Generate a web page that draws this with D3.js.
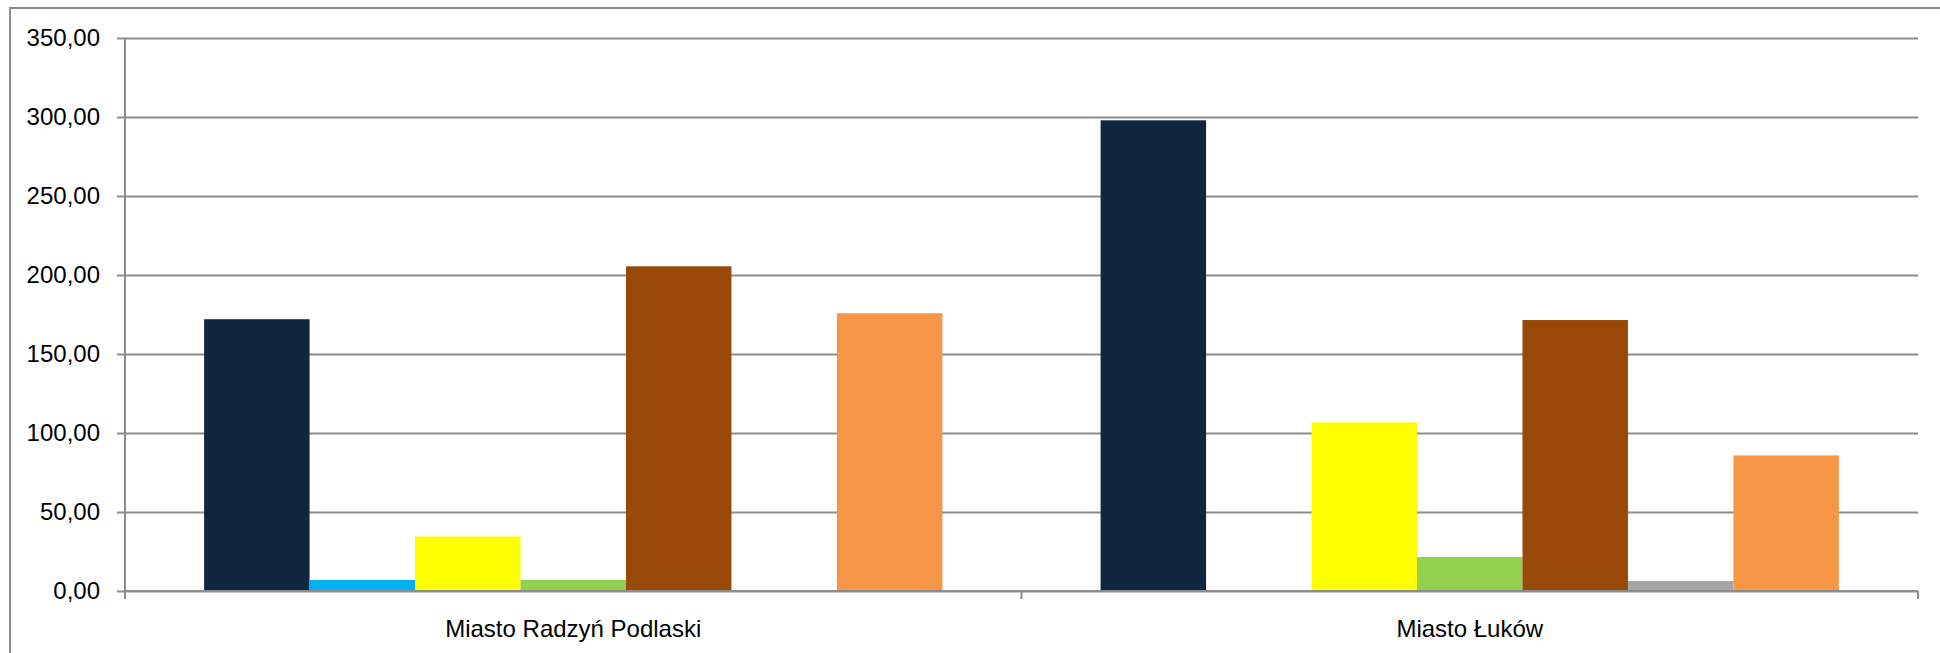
<!DOCTYPE html>
<html>
<head>
<meta charset="utf-8">
<script src="https://cdn.jsdelivr.net/npm/d3@7"></script>
<style>
  html, body { margin: 0; padding: 0; background: #fff; }
  svg { display: block; }
  text { font-family: "Liberation Sans", Arial, sans-serif; fill: #000; }
</style>
</head>
<body>
<svg id="chart" width="1940" height="653"></svg>
<script>
// ---- data ----
const categories = ["Miasto Radzyń Podlaski", "Miasto Łuków"];
const seriesNames = ["Seria 1", "Seria 2", "Seria 3", "Seria 4", "Seria 5", "Seria 6", "Seria 7"];
const seriesColors = ["#10253F", "#00B0F0", "#FFFF00", "#92D050", "#984807", "#A5A5A5", "#F79646"];
const valuesRadzyn = [172.0, 7.0, 34.5, 7.0, 205.5, 0, 175.8];
const valuesLukow = [297.9, 0, 106.7, 21.5, 171.5, 6.3, 85.8];
const yTicks = [0, 50, 100, 150, 200, 250, 300, 350];

const values = [valuesRadzyn, valuesLukow];

// ---- layout ----
const svg = d3.select("#chart");
const plot = { left: 125, right: 1918, top: 38, bottom: 591 };
const gridColor = "#8C8C8C";

// outer border (top & left visible)
svg.append("path")
  .attr("d", `M10,1000 L10,8 L2000,8`)
  .attr("fill", "none")
  .attr("stroke", "#8C8C8C")
  .attr("stroke-width", 2);

const y = d3.scaleLinear().domain([0, 350]).range([plot.bottom, plot.top]);
const x0 = d3.scaleBand().domain(categories).range([plot.left, plot.right]).padding(0);
const x1 = d3.scaleBand().domain(seriesNames).range([0, x0.bandwidth()])
  .paddingInner(0).paddingOuter(0.75);

const loc = d3.formatLocale({ decimal: ",", thousands: " ", grouping: [3], currency: ["", " zł"] });
const fmt = loc.format(".2f");

// gridlines
const grid = svg.append("g").attr("transform", `translate(${plot.left},0)`)
  .call(d3.axisLeft(y).tickValues(yTicks).tickSize(-(plot.right - plot.left)).tickFormat(""));
grid.select(".domain").remove();
grid.selectAll("line").attr("stroke", gridColor).attr("stroke-width", 2);

// bars
const groups = svg.append("g").selectAll("g")
  .data(categories)
  .join("g")
  .attr("transform", d => `translate(${x0(d)},0)`);

groups.selectAll("rect")
  .data((c, i) => seriesNames.map((s, j) => ({ s, v: values[i][j], color: seriesColors[j] })))
  .join("rect")
  .attr("x", d => x1(d.s))
  .attr("width", x1.bandwidth())
  .attr("y", d => y(d.v))
  .attr("height", d => plot.bottom - y(d.v))
  .attr("fill", d => d.color);

// y axis
const yAxis = svg.append("g").attr("transform", `translate(${plot.left},0)`)
  .call(d3.axisLeft(y).tickValues(yTicks).tickSize(8).tickPadding(17).tickFormat(fmt));
yAxis.select(".domain").attr("stroke", gridColor).attr("stroke-width", 2)
  .attr("d", `M0,${plot.top}V${plot.bottom}`);
yAxis.selectAll("line").attr("stroke", gridColor).attr("stroke-width", 2);
yAxis.selectAll("text").attr("font-size", 24).attr("font-family", "Liberation Sans, Arial, sans-serif").attr("fill", "#000");

// x axis
const xAxis = svg.append("g").attr("transform", `translate(0,${plot.bottom})`)
  .call(d3.axisBottom(x0).tickSize(0).tickPadding(29));
xAxis.select(".domain").attr("stroke", gridColor).attr("stroke-width", 2)
  .attr("d", `M${plot.left},0H${plot.right}`);
xAxis.selectAll("text").attr("font-size", 24).attr("font-family", "Liberation Sans, Arial, sans-serif").attr("fill", "#000");

// category boundary ticks
const bounds = categories.map(c => x0(c)).concat([x0.range()[1]]);
xAxis.selectAll(".bound").data(bounds).join("line")
  .attr("class", "bound")
  .attr("x1", d => d).attr("x2", d => d)
  .attr("y1", 0).attr("y2", 8)
  .attr("stroke", gridColor).attr("stroke-width", 2);
</script>
</body>
</html>
